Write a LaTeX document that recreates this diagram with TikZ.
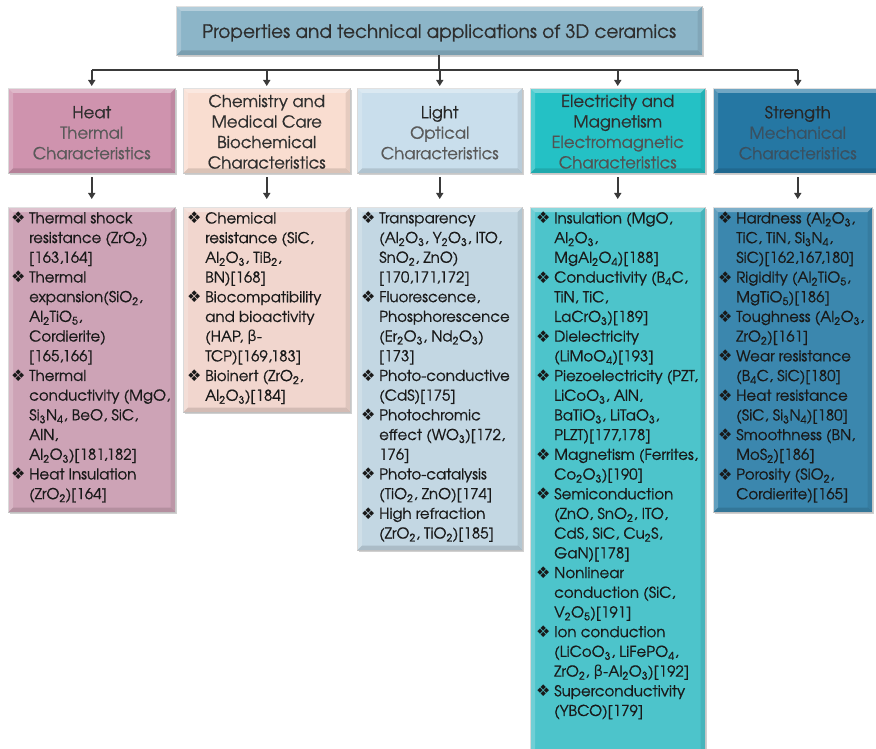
\documentclass[tikz,border=0pt]{standalone}
\usepackage{fontspec}
\setmainfont{TeX Gyre Adventor}[FakeBold=0.8]
\newfontfamily\symf{DejaVu Sans}
\usetikzlibrary{arrows.meta,shadows}
\definecolor{titleC}{HTML}{8CB5C8}
\definecolor{heatH}{HTML}{CF93AE}
\definecolor{heatC}{HTML}{CDA3B6}
\definecolor{chemH}{HTML}{F9DDD0}
\definecolor{chemC}{HTML}{F1D6CE}
\definecolor{lightH}{HTML}{C9DEEC}
\definecolor{lightC}{HTML}{C3D7E3}
\definecolor{elecH}{HTML}{24C1C5}
\definecolor{elecC}{HTML}{4DC4CB}
\definecolor{strH}{HTML}{2577A3}
\definecolor{strC}{HTML}{3B87AE}
\definecolor{lineC}{HTML}{3A3A3A}
\definecolor{txtD}{HTML}{2E2E2E}
\definecolor{txtG}{HTML}{595959}
\definecolor{txtB}{HTML}{3A5060}
\newcommand{\B}{\makebox[18pt][l]{\raisebox{-0.5pt}{\symf\fontsize{16}{16}\selectfont ❖}}}
\newcommand{\I}{\hspace*{18pt}}
\newcommand{\s}[1]{\textsubscript{#1}}
\newcommand{\bet}{{\symf β}}
\newcommand{\bev}[1]{%
  \fill[white,opacity=.35] (#1.north west) -- (#1.north east) -- ([shift={(-5pt,-5pt)}]#1.north east) -- ([shift={(5pt,-5pt)}]#1.north west) -- cycle;
  \fill[white,opacity=.2] (#1.north west) -- ([shift={(5pt,-5pt)}]#1.north west) -- ([shift={(5pt,5pt)}]#1.south west) -- (#1.south west) -- cycle;
  \fill[black,opacity=.12] (#1.south west) -- (#1.south east) -- ([shift={(-5pt,5pt)}]#1.south east) -- ([shift={(5pt,5pt)}]#1.south west) -- cycle;
  \fill[black,opacity=.08] (#1.north east) -- ([shift={(-5pt,-5pt)}]#1.north east) -- ([shift={(-5pt,5pt)}]#1.south east) -- (#1.south east) -- cycle;
}
\tikzset{
  box/.style={draw=black!18, line width=.5pt, inner sep=0, anchor=north west,
    drop shadow={shadow xshift=1.5pt, shadow yshift=-2pt, opacity=.3, fill=black!60}},
  head/.style={align=center, font=\fontsize{16.5}{20.5}\selectfont, inner sep=0},
  list/.style={align=left, anchor=north west, inner sep=0, text=black!90,
    font=\fontsize{15}{19.7}\selectfont},
  conn/.style={draw=lineC, line width=1.6pt},
  arr/.style={conn, -{Triangle[length=6pt,width=7pt]}},
}
\begin{document}
\begin{tikzpicture}[x=1pt,y=-1pt]
\useasboundingbox (0,0) rectangle (876,749);
\fill[white] (0,0) rectangle (876,749);

% title
\node[box, fill=titleC, minimum width=526pt, minimum height=49pt] (title) at (176,6) {};
\bev{title}
\node[font=\fontsize{18.5}{20}\selectfont, text=txtD] (titleT) at ([yshift=-2pt]title.center) {Properties and technical applications of 3D ceramics};

% headers
\node[box, fill=heatH, minimum width=167pt, minimum height=85pt] (heat) at (8,88) {};
\node[box, fill=chemH, minimum width=167pt, minimum height=85pt] (chem) at (183,88) {};
\node[box, fill=lightH, minimum width=165pt, minimum height=85pt] (light) at (357,88) {};
\node[box, fill=elecH, minimum width=175pt, minimum height=85pt] (elec) at (530,88) {};
\node[box, fill=strH, minimum width=169pt, minimum height=85pt] (str) at (713,88) {};
\bev{heat}\bev{chem}\bev{light}\bev{elec}\bev{str}

\node[head] (heatT) at ([yshift=-2pt]heat.center) {\textcolor{txtD}{Heat}\\ \textcolor{txtG}{Thermal}\\ \textcolor{txtG}{Characteristics}};
\node[head, text=txtD] (chemT) at ([yshift=-1pt]chem.center) {Chemistry and\\ Medical Care\\ Biochemical\\ Characteristics};
\node[head] (lightT) at ([yshift=-2pt]light.center) {\textcolor{black!85}{Light}\\ \textcolor{txtG}{Optical}\\ \textcolor{txtG}{Characteristics}};
\node[head] (elecT) at ([yshift=-1pt]elec.center) {\textcolor{txtD}{Electricity and}\\ \textcolor{txtD}{Magnetism}\\ \textcolor{black!68}{Electromagnetic}\\ \textcolor{black!68}{Characteristics}};
\node[head] (strT) at ([yshift=-2pt]str.center) {\textcolor{black!85}{Strength}\\ \textcolor{txtB}{Mechanical}\\ \textcolor{txtB}{Characteristics}};

% content boxes
\node[box, fill=heatC, minimum width=167pt, minimum height=305pt] (heatC) at (8,207) {};
\node[box, fill=chemC, minimum width=167pt, minimum height=205pt] (chemC) at (183,207) {};
\node[box, fill=lightC, minimum width=165pt, minimum height=343pt] (lightC) at (357,207) {};
\node[box, fill=elecC, minimum width=175pt, minimum height=570pt] (elecC) at (530,207) {};
\node[box, fill=strC, minimum width=159pt, minimum height=305pt] (strC) at (713,207) {};
\bev{heatC}\bev{chemC}\bev{lightC}\bev{elecC}\bev{strC}

% connectors
\coordinate (jy) at (0,70);
\draw[conn] (heat.north |- jy) -- (str.north |- jy);
\draw[conn] (title.south) -- (title.south |- jy);
\foreach \n in {heat,chem,light,elec,str}{
  \draw[arr, shorten >=2pt] (\n.north |- jy) -- (\n.north);
}
\draw[arr, shorten <=4pt, shorten >=8pt] (heat.south) -- (heatC.north);
\draw[arr, shorten <=4pt, shorten >=8pt] (chem.south) -- (chemC.north);
\draw[arr, shorten <=4pt, shorten >=8pt] (light.south) -- (lightC.north);
\draw[arr, shorten <=4pt, shorten >=8pt] (elec.south) -- (elecC.north);
\draw[arr, shorten <=4pt, shorten >=8pt] (str.south) -- (str.south |- strC.north);

% lists
\node[list] (heatL) at (11,212) {\B Thermal shock\\ \I resistance (ZrO\s2)\\ \I [163,164]\\
\B Thermal\\ \I expansion(SiO\s2,\\ \I Al\s2TiO\s5,\\ \I Cordierite)\\ \I [165,166]\\
\B Thermal\\ \I conductivity (MgO,\\ \I Si\s3N\s4, BeO, SiC,\\ \I AlN,\\ \I Al\s2O\s3)[181,182]\\
\B Heat Insulation\\ \I (ZrO\s2)[164]};

\node[list] (chemL) at (187,212) {\B Chemical\\ \I resistance (SiC,\\ \I Al\s2O\s3, TiB\s2,\\ \I BN)[168]\\
\B Biocompatibility\\ \I and bioactivity\\ \I (HAP, \bet-\\ \I TCP)[169,183]\\
\B Bioinert (ZrO\s2,\\ \I Al\s2O\s3)[184]};

\node[list] (lightL) at (361,212) {\B Transparency\\ \I (Al\s2O\s3, Y\s2O\s3, ITO,\\ \I SnO\s2, ZnO)\\ \I [170,171,172]\\
\B Fluorescence,\\ \I Phosphorescence\\ \I (Er\s2O\s3, Nd\s2O\s3)\\ \I [173]\\
\B Photo-conductive\\ \I (CdS)[175]\\
\B Photochromic\\ \I effect (WO\s3)[172,\\ \I 176]\\
\B Photo-catalysis\\ \I (TiO\s2, ZnO)[174]\\
\B High refraction\\ \I (ZrO\s2, TiO\s2)[185]};

\node[list] (elecL) at (536,212) {\B Insulation (MgO,\\ \I Al\s2O\s3,\\ \I MgAl\s2O\s4)[188]\\
\B Conductivity (B\s4C,\\ \I TiN, TiC,\\ \I LaCrO\s3)[189]\\
\B Dielectricity\\ \I (LiMoO\s4)[193]\\
\B Piezoelectricity (PZT,\\ \I LiCoO\s3, AlN,\\ \I BaTiO\s3, LiTaO\s3,\\ \I PLZT)[177,178]\\
\B Magnetism (Ferrites,\\ \I Co\s2O\s3)[190]\\
\B Semiconduction\\ \I (ZnO, SnO\s2, ITO,\\ \I CdS, SiC, Cu\s2S,\\ \I GaN)[178]\\
\B Nonlinear\\ \I conduction (SiC,\\ \I V\s2O\s5)[191]\\
\B Ion conduction\\ \I (LiCoO\s3, LiFePO\s4,\\ \I ZrO\s2, \bet-Al\s2O\s3)[192]\\
\B Superconductivity\\ \I (YBCO)[179]};

\node[list] (strL) at (718,212) {\B Hardness (Al\s2O\s3,\\ \I TiC, TiN, Si\s3N\s4,\\ \I SiC)[162,167,180]\\
\B Rigidity (Al\s2TiO\s5,\\ \I MgTiO\s5)[186]\\
\B Toughness (Al\s2O\s3,\\ \I ZrO\s2)[161]\\
\B Wear resistance\\ \I (B\s4C, SiC)[180]\\
\B Heat resistance\\ \I (SiC, Si\s3N\s4)[180]\\
\B Smoothness (BN,\\ \I MoS\s2)[186]\\
\B Porosity (SiO\s2,\\ \I Cordierite)[165]};
\end{tikzpicture}
\end{document}
